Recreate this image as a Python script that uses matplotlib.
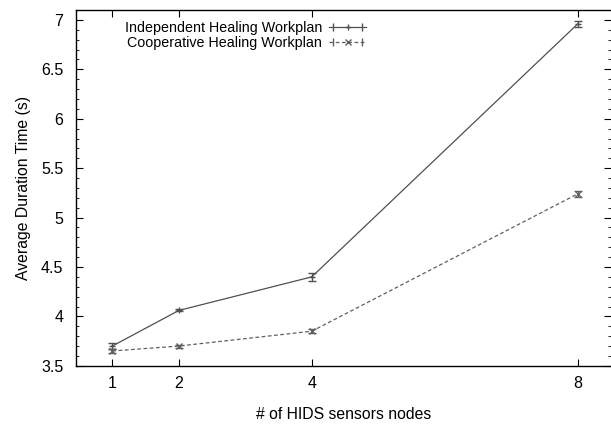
import numpy as np
import matplotlib
matplotlib.use('Agg')
import matplotlib.pyplot as plt
from matplotlib.lines import Line2D
from matplotlib.legend_handler import HandlerLine2D, HandlerTuple

# dati
nodi = [1, 2, 4, 8]
indipendente = [3.70, 4.06, 4.40, 6.96]
err_indipendente = [0.03, 0.01, 0.04, 0.03]
cooperativo = [3.65, 3.70, 3.85, 5.24]
err_cooperativo = [0.02, 0.015, 0.02, 0.03]
etichette_y = [3.5, 4, 4.5, 5, 5.5, 6, 6.5, 7]

plt.rcParams['font.family'] = ['Liberation Sans', 'DejaVu Sans']
plt.rcParams['font.size'] = 11.3

col_i = '#505050'
col_c = '#606060'
tratteggio = (0, (3, 2))

fig = plt.figure(figsize=(6.11, 4.36), dpi=100, facecolor='white')
ax = fig.add_axes([0.124, 0.161, 0.876, 0.816])

ax.errorbar(nodi, indipendente, yerr=err_indipendente, color=col_i, linewidth=0.9,
            marker='+', markersize=5, capsize=3, elinewidth=0.8)
ax.errorbar(nodi, cooperativo, yerr=err_cooperativo, color=col_c, linewidth=0.9,
            linestyle=tratteggio, marker='x', markersize=5, capsize=3, elinewidth=0.8)

ax.set_xlim(0.45, 8.5)
ax.set_ylim(3.5, 7.1)
ax.set_xticks(nodi)
ax.set_yticks(etichette_y)
ax.set_yticklabels([f'{v:g}' for v in etichette_y])
ax.set_yticks(np.arange(3.5, 7.05, 0.1), minor=True)
ax.tick_params(direction='in', which='both', top=True, right=True, length=5, labelsize=11.5)
ax.tick_params(axis='y', which='major', pad=9)
ax.tick_params(axis='x', which='major', pad=7)
ax.tick_params(which='minor', length=2.5)
ax.spines['right'].set_visible(False)
for s in ax.spines.values():
    s.set_linewidth(1.0)

ax.set_xlabel('# of HIDS sensors nodes', labelpad=12)
ax.set_ylabel('Average Duration Time (s)', labelpad=7)

# legenda in stile gnuplot: testo allineato a destra, campione con barre di errore
linea_i = Line2D([], [], color=col_i, linewidth=0.9, marker='+', markersize=5)
cap_i = Line2D([], [], color=col_i, linestyle='none', marker='|', markersize=6)
linea_c = Line2D([], [], color=col_c, linewidth=0.9, linestyle=tratteggio, marker='x', markersize=5)
cap_c = Line2D([], [], color=col_c, linestyle='none', marker='|', markersize=6)

leg = ax.legend([(linea_i, cap_i), (linea_c, cap_c)],
                ['Independent Healing Workplan', 'Cooperative Healing Workplan'],
                handler_map={cap_i: HandlerLine2D(numpoints=2), cap_c: HandlerLine2D(numpoints=2),
                             tuple: HandlerTuple(ndivide=1, pad=0)},
                loc='upper left', bbox_to_anchor=(0.07, 1.0), frameon=False, markerfirst=False,
                numpoints=1, handlelength=2.6, labelspacing=0.05, borderpad=0.3,
                handletextpad=0.5, fontsize=10.3)
for t in leg.get_texts():
    t.set_ha('right')

plt.savefig('out.png', dpi=100)
